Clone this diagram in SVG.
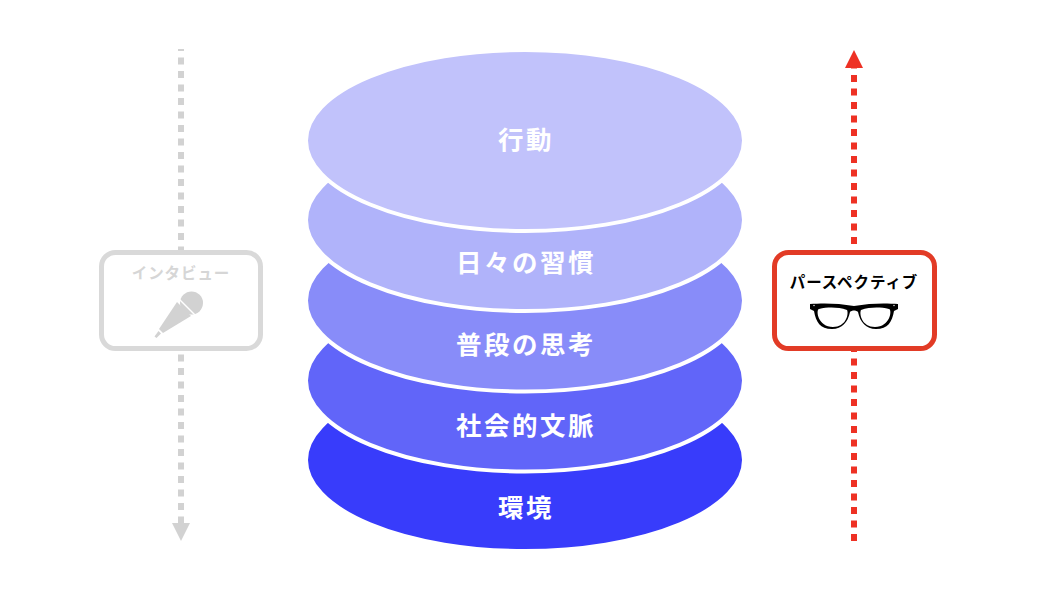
<svg xmlns="http://www.w3.org/2000/svg" width="1050" height="590" viewBox="0 0 1050 590">
<style>
.layer{stroke:#fff;stroke-width:4}
.lbl{font-family:"Noto Sans CJK JP","Noto Sans",sans-serif;font-weight:700;font-size:25.500px;fill:#fff;text-anchor:middle;letter-spacing:2.500px}
.cap{font-family:"Noto Sans CJK JP","Noto Sans",sans-serif;font-weight:700;font-size:15.500px;text-anchor:middle;letter-spacing:.9px}
.box{fill:#fff;stroke-width:5}
</style>
<rect width="1050" height="590" fill="#fff"/>
<g id="connectors">
<line x1="181" y1="49" x2="181" y2="526" stroke="#d2d2d2" stroke-width="6" stroke-dasharray="7 6.500" stroke-dashoffset="5"/>
<polygon points="172,523 190,523 181,541" fill="#d2d2d2"/>
<line x1="854" y1="541" x2="854" y2="66" stroke="#ee3124" stroke-width="6" stroke-dasharray="7 6.500"/>
<polygon points="845,68 863,68 854,50" fill="#ee3124"/>
</g>
<g id="layer-environment"><ellipse class="layer" cx="525" cy="460" rx="219" ry="91" fill="#383cfb"/><text class="lbl" x="526" y="517">環境</text></g>
<g id="layer-social"><ellipse class="layer" cx="525" cy="380.500" rx="219" ry="91" fill="#6165f9"/><text class="lbl" x="526" y="435">社会的文脈</text></g>
<g id="layer-thinking"><ellipse class="layer" cx="525" cy="300.500" rx="219" ry="91" fill="#888cf9"/><text class="lbl" x="526" y="354">普段の思考</text></g>
<g id="layer-habits"><ellipse class="layer" cx="525" cy="220" rx="219" ry="91" fill="#b0b3fa"/><text class="lbl" x="526" y="272">日々の習慣</text></g>
<g id="layer-action"><ellipse class="layer" cx="525" cy="140.500" rx="219" ry="90.500" fill="#c1c2fb"/><text class="lbl" x="526" y="149">行動</text></g>
<g id="node-interview">
<rect class="box" x="101.500" y="252.500" width="159" height="96" rx="14" stroke="#d9d9d9"/>
<text class="cap" x="181" y="279" fill="#d6d6d6">インタビュー</text>
<g fill="#d2d2d2">
<circle cx="191.500" cy="303" r="11.500"/>
<path d="M177 302 L191 316 L163 333 L159 329 Z"/>
<path d="M158.500 331 L161 333.500 L156.500 338 L154.500 336.500 Z"/>
</g>
<path d="M179 299 L196 316" stroke="#fff" stroke-width="1.500" fill="none"/>
</g>
<g id="node-perspective">
<rect class="box" x="774.500" y="252.500" width="160" height="96" rx="14" stroke="#e23b26"/>
<text class="cap" x="854" y="288" fill="#000">パースペクティブ</text>
<path id="glasses" fill="#000" fill-rule="evenodd" d="M810 304 C822 303 838 303 854 306 C870 303 886 303 898 304 L898 309 L894 311 C892 322 888 329 876 329 C866 329 860 322 858 312 C856 310 852 310 850 312 C848 322 842 329 832 329 C820 329 816 322 814 311 L810 309 Z M819 309 C815.500 310 818 327 833 327 C846 327 849 314 847 310 C838 307 828 307 819 309 Z M889 309 C880 307 870 307 861 310 C859 314 862 327 875 327 C890 327 892.500 310 889 309 Z"/>
<g fill="#fff"><circle cx="814" cy="305.500" r=".7"/><circle cx="894" cy="305.500" r=".7"/></g>
</g>
</svg>
